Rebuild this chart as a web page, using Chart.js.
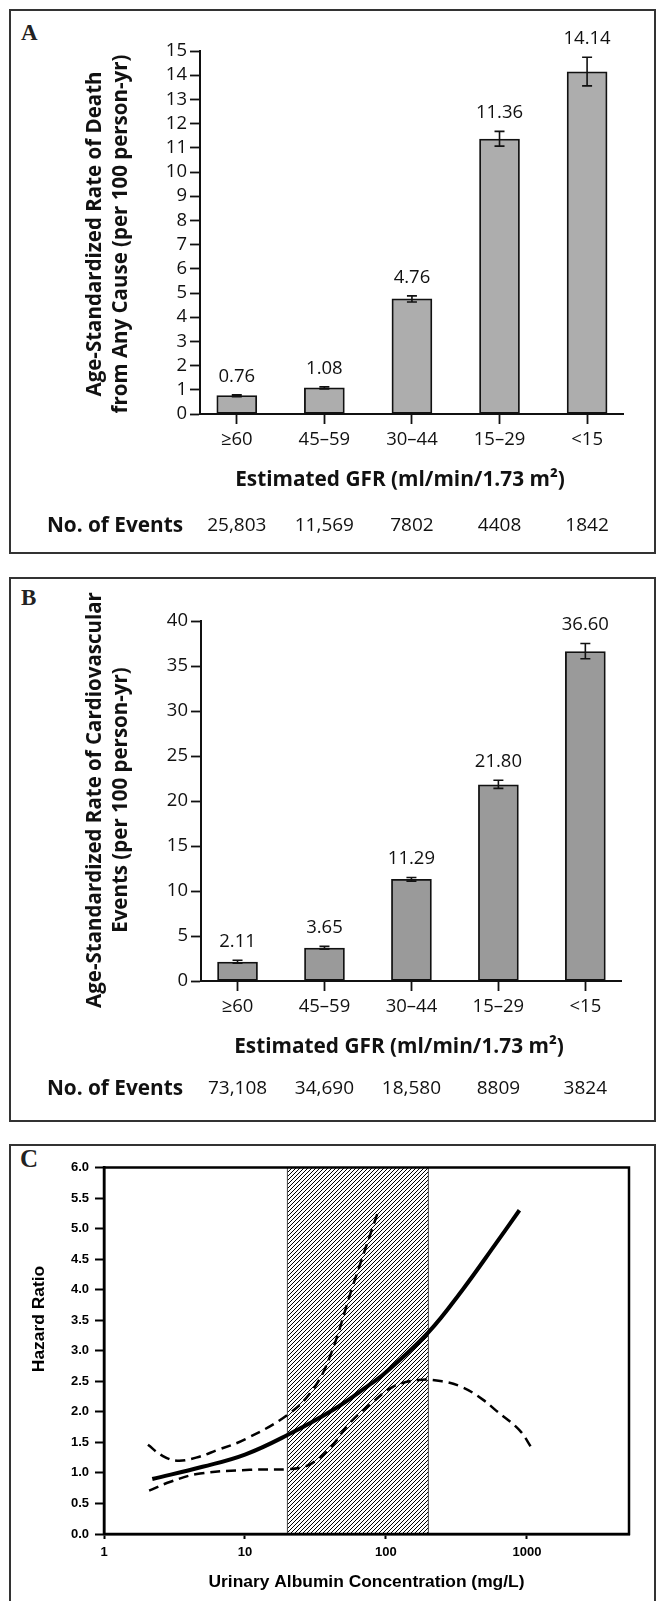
<!DOCTYPE html>
<html>
<head>
<meta charset="utf-8">
<script src="https://cdn.jsdelivr.net/npm/chart.js@4.4.0/dist/chart.umd.min.js"></script>
<style>
  html, body { margin: 0; padding: 0; background: #fff; }
  body { width: 659px; height: 1601px; position: relative; overflow: hidden; }
  .panel { position: absolute; left: 9px; width: 647px; border: 2.5px solid #333; box-sizing: border-box; }
  .letter { position: absolute; font-family: "Liberation Serif", "DejaVu Serif", serif; font-weight: bold; line-height: 1; color: #222; }
  canvas { position: absolute; left: 0; }
</style>
</head>
<body>
<div class="panel" style="top:9px;height:545px"></div>
<div class="panel" style="top:577px;height:545px"></div>
<div class="panel" style="top:1144px;height:500px"></div>
<div class="letter" style="left:21px;top:21px;font-size:23px">A</div>
<div class="letter" style="left:21px;top:586px;font-size:23px">B</div>
<div class="letter" style="left:20px;top:1146px;font-size:25px">C</div>

<canvas id="deathChart" width="659" height="552" style="top:0"></canvas>
<canvas id="cvChart" width="659" height="560" style="top:560px"></canvas>
<canvas id="albChart" width="659" height="461" style="top:1140px"></canvas>

<script>
// Panels A and B: estimated GFR groups
const GFR_GROUPS = ['≥60', '45–59', '30–44', '15–29', '<15'];

const DEATH_RATE = [0.76, 1.08, 4.76, 11.36, 14.14];
const DEATH_LOW = [0.72, 1.04, 4.63, 11.07, 13.56];
const DEATH_HIGH = [0.79, 1.12, 4.88, 11.68, 14.74];
const DEATH_EVENTS = ['25,803', '11,569', '7802', '4408', '1842'];
const DEATH_TICKS = [0, 1, 2, 3, 4, 5, 6, 7, 8, 9, 10, 11, 12, 13, 14, 15];

const CV_RATE = [2.11, 3.65, 11.29, 21.80, 36.60];
const CV_LOW = [1.97, 3.52, 11.1, 21.4, 35.8];
const CV_HIGH = [2.3, 3.85, 11.5, 22.3, 37.5];
const CV_EVENTS = ['73,108', '34,690', '18,580', '8809', '3824'];
const CV_TICKS = [0, 5, 10, 15, 20, 25, 30, 35, 40];

// Panel C: hazard ratio vs urinary albumin (mg/L)
const HR_TICKS = [0, 0.5, 1, 1.5, 2, 2.5, 3, 3.5, 4, 4.5, 5, 5.5, 6];
const ALB_TICKS = [1, 10, 100, 1000];
const HATCH_RANGE = [20, 200];

const HR_X = [2.2, 5, 10, 20, 42, 72, 100, 200, 350, 600, 885];
const HR_Y = [0.9, 1.1, 1.3, 1.62, 2.03, 2.4, 2.65, 3.3, 4.0, 4.75, 5.3];
const UPPER_X = [2.05, 2.6, 3.3, 4.5, 6.3, 10, 20, 30, 40, 58, 88];
const UPPER_Y = [1.46, 1.28, 1.2, 1.25, 1.37, 1.55, 1.95, 2.35, 2.9, 4.05, 5.28];
const LOWER_X = [2.09, 3, 4.8, 10.8, 20, 25, 30, 40, 55, 80, 112, 170, 250, 350, 487, 605, 885, 1088];
const LOWER_Y = [0.71, 0.86, 0.99, 1.05, 1.06, 1.09, 1.16, 1.4, 1.81, 2.15, 2.41, 2.52, 2.5, 2.4, 2.2, 2.02, 1.7, 1.4];

const INK = '#111';
const SANS = '"Open Sans", "DejaVu Sans", sans-serif';

// error bars, value labels and the extra text rows of the bar panels
const barExtras = {
    id: 'barExtras',
    afterDatasetsDraw(chart, args, o) {
        const { ctx, scales: { y } } = chart;
        const bars = chart.getDatasetMeta(0).data;
        ctx.save();
        ctx.strokeStyle = INK;
        ctx.lineWidth = 1.6;
        ctx.fillStyle = INK;
        ctx.font = '18.5px ' + SANS;
        ctx.textAlign = 'center';
        ctx.textBaseline = 'middle';
        bars.forEach((bar, i) => {
            const lo = y.getPixelForValue(o.low[i]);
            const hi = y.getPixelForValue(o.high[i]);
            ctx.beginPath();
            ctx.moveTo(bar.x, lo); ctx.lineTo(bar.x, hi);
            ctx.moveTo(bar.x - 5, lo); ctx.lineTo(bar.x + 5, lo);
            ctx.moveTo(bar.x - 5, hi); ctx.lineTo(bar.x + 5, hi);
            ctx.stroke();
            ctx.fillText(o.values[i].toFixed(2), bar.x, hi - 18.5);
        });
        ctx.restore();
    },
    afterDraw(chart, args, o) {
        const { ctx } = chart;
        const bars = chart.getDatasetMeta(0).data;
        ctx.save();
        ctx.fillStyle = INK;
        ctx.textAlign = 'center';
        ctx.textBaseline = 'middle';

        ctx.font = 'bold 20.5px ' + SANS;
        o.yTitle.forEach((line, i) => {
            ctx.save();
            ctx.translate(o.yTitleX[i], o.yTitleY);
            ctx.rotate(-Math.PI / 2);
            ctx.fillText(line, 0, 0);
            ctx.restore();
        });

        ctx.font = 'bold 20.8px ' + SANS;
        ctx.fillText('Estimated GFR (ml/min/1.73 m²)', o.xTitleX, o.xTitleY);
        ctx.fillText('No. of Events', 115, o.eventsY);

        ctx.font = '19px ' + SANS;
        bars.forEach((bar, i) => ctx.fillText(o.events[i], bar.x, o.eventsY));
        ctx.restore();
    }
};

function barChart(id, values, low, high, events, yTicks, color, layout, text) {
    const yMax = yTicks[yTicks.length - 1];
    return new Chart(document.getElementById(id), {
        type: 'bar',
        data: {
            datasets: [{
                data: values.map((v, i) => ({ x: i, y: v })),
                backgroundColor: color,
                borderColor: INK,
                borderWidth: 1.8,
                borderSkipped: false,
                barThickness: 40
            }]
        },
        options: {
            responsive: false,
            animation: false,
            layout: { padding: { left: 0, top: layout.top, right: layout.right, bottom: 0 } },
            plugins: {
                legend: { display: false },
                tooltip: { enabled: false },
                barExtras: { values, low, high, events, ...text }
            },
            scales: {
                x: {
                    type: 'linear',
                    offset: false,
                    min: -0.42,
                    max: 4.41,
                    afterBuildTicks: s => { s.ticks = GFR_GROUPS.map((_, i) => ({ value: i })); },
                    afterFit: s => { s.height = layout.xHeight; },
                    ticks: {
                        autoSkip: false,
                        maxRotation: 0,
                        padding: 5,
                        color: INK,
                        font: { family: SANS, size: 18.5 },
                        callback: v => GFR_GROUPS[v]
                    },
                    grid: { offset: false, drawOnChartArea: false, tickLength: 10, tickWidth: 1.8, tickColor: INK },
                    border: { color: INK, width: 2 }
                },
                y: {
                    min: 0,
                    max: yMax,
                    afterBuildTicks: s => { s.ticks = yTicks.map(v => ({ value: v })); },
                    afterFit: s => { s.width = layout.yWidth; },
                    ticks: {
                        autoSkip: false,
                        padding: 3,
                        color: INK,
                        font: { family: SANS, size: 18.5 }
                    },
                    grid: { drawOnChartArea: false, tickLength: 10, tickWidth: 1.8, tickColor: INK },
                    border: { color: INK, width: 2 }
                }
            }
        },
        plugins: [barExtras]
    });
}

barChart('deathChart', DEATH_RATE, DEATH_LOW, DEATH_HIGH, DEATH_EVENTS, DEATH_TICKS, '#adadad',
    { top: 51, right: 36, yWidth: 200, xHeight: 138 },
    {
        yTitle: ['Age-Standardized Rate of Death', 'from Any Cause (per 100 person-yr)'],
        yTitleX: [95, 121], yTitleY: 234,
        xTitleX: 400, xTitleY: 480, eventsY: 526
    });

barChart('cvChart', CV_RATE, CV_LOW, CV_HIGH, CV_EVENTS, CV_TICKS, '#9a9a9a',
    { top: 61, right: 38, yWidth: 201, xHeight: 139 },
    {
        yTitle: ['Age-Standardized Rate of Cardiovascular', 'Events (per 100 person-yr)'],
        yTitleX: [95, 121], yTitleY: 240,
        xTitleX: 399, xTitleY: 487, eventsY: 529
    });

// Panel C: hatched reference band, frame and axis titles
function hatchPattern(ctx) {
    const s = 4;
    const tile = document.createElement('canvas');
    tile.width = s; tile.height = s;
    const t = tile.getContext('2d');
    t.strokeStyle = '#000';
    t.lineWidth = 1;
    t.beginPath();
    t.moveTo(0, s); t.lineTo(s, 0);
    t.moveTo(-1, 1); t.lineTo(1, -1);
    t.moveTo(s - 1, s + 1); t.lineTo(s + 1, s - 1);
    t.stroke();
    return ctx.createPattern(tile, 'repeat');
}

const albExtras = {
    id: 'albExtras',
    beforeDatasetsDraw(chart) {
        const { ctx, chartArea: a, scales: { x } } = chart;
        const x0 = x.getPixelForValue(HATCH_RANGE[0]);
        const x1 = x.getPixelForValue(HATCH_RANGE[1]);
        ctx.save();
        ctx.fillStyle = hatchPattern(ctx);
        ctx.fillRect(x0, a.top, x1 - x0, a.bottom - a.top);
        ctx.strokeStyle = '#444';
        ctx.lineWidth = 1;
        ctx.strokeRect(x0, a.top, x1 - x0, a.bottom - a.top);
        ctx.restore();
    },
    afterDraw(chart) {
        const { ctx, chartArea: a } = chart;
        ctx.save();
        ctx.strokeStyle = '#000';
        ctx.lineWidth = 2.5;
        ctx.strokeRect(a.left, a.top, a.right - a.left, a.bottom - a.top);
        ctx.fillStyle = '#000';
        ctx.textAlign = 'center';
        ctx.textBaseline = 'middle';
        ctx.font = 'bold 17.4px "Liberation Sans", Arial, sans-serif';
        ctx.fillText('Urinary Albumin Concentration (mg/L)', (a.left + a.right) / 2, 442);
        ctx.translate(39, 179);
        ctx.rotate(-Math.PI / 2);
        ctx.fillText('Hazard Ratio', 0, 0);
        ctx.restore();
    }
};

const pts = (xs, ys) => xs.map((v, i) => ({ x: v, y: ys[i] }));
const cFont = { family: '"Liberation Sans", Arial, sans-serif', size: 13, weight: 'bold' };

new Chart(document.getElementById('albChart'), {
    type: 'line',
    data: {
        datasets: [
            { data: pts(HR_X, HR_Y), borderColor: '#000', borderWidth: 4, pointRadius: 0, tension: 0.4 },
            { data: pts(UPPER_X, UPPER_Y), borderColor: '#000', borderWidth: 2.5, borderDash: [10, 6], pointRadius: 0, tension: 0.4 },
            { data: pts(LOWER_X, LOWER_Y), borderColor: '#000', borderWidth: 2.5, borderDash: [10, 6], pointRadius: 0, tension: 0.4 }
        ]
    },
    options: {
        responsive: false,
        animation: false,
        layout: { padding: { left: 0, top: 27.5, right: 30, bottom: 0 } },
        plugins: { legend: { display: false }, tooltip: { enabled: false } },
        scales: {
            x: {
                type: 'logarithmic',
                min: 1,
                max: 5300,
                afterBuildTicks: s => { s.ticks = ALB_TICKS.map(v => ({ value: v })); },
                afterFit: s => { s.height = 67; },
                ticks: { autoSkip: false, maxRotation: 0, padding: 6, color: '#000', font: cFont, callback: v => String(v) },
                grid: { drawOnChartArea: false, tickLength: 5, tickWidth: 2, tickColor: '#000' },
                border: { color: '#000', width: 2.5 }
            },
            y: {
                min: 0,
                max: 6,
                afterBuildTicks: s => { s.ticks = HR_TICKS.map(v => ({ value: v })); },
                afterFit: s => { s.width = 104; },
                ticks: { autoSkip: false, padding: 6, color: '#000', font: cFont, callback: v => v.toFixed(1) },
                grid: { drawOnChartArea: false, tickLength: 9, tickWidth: 2, tickColor: '#000' },
                border: { color: '#000', width: 2.5 }
            }
        }
    },
    plugins: [albExtras]
});
</script>
</body>
</html>
